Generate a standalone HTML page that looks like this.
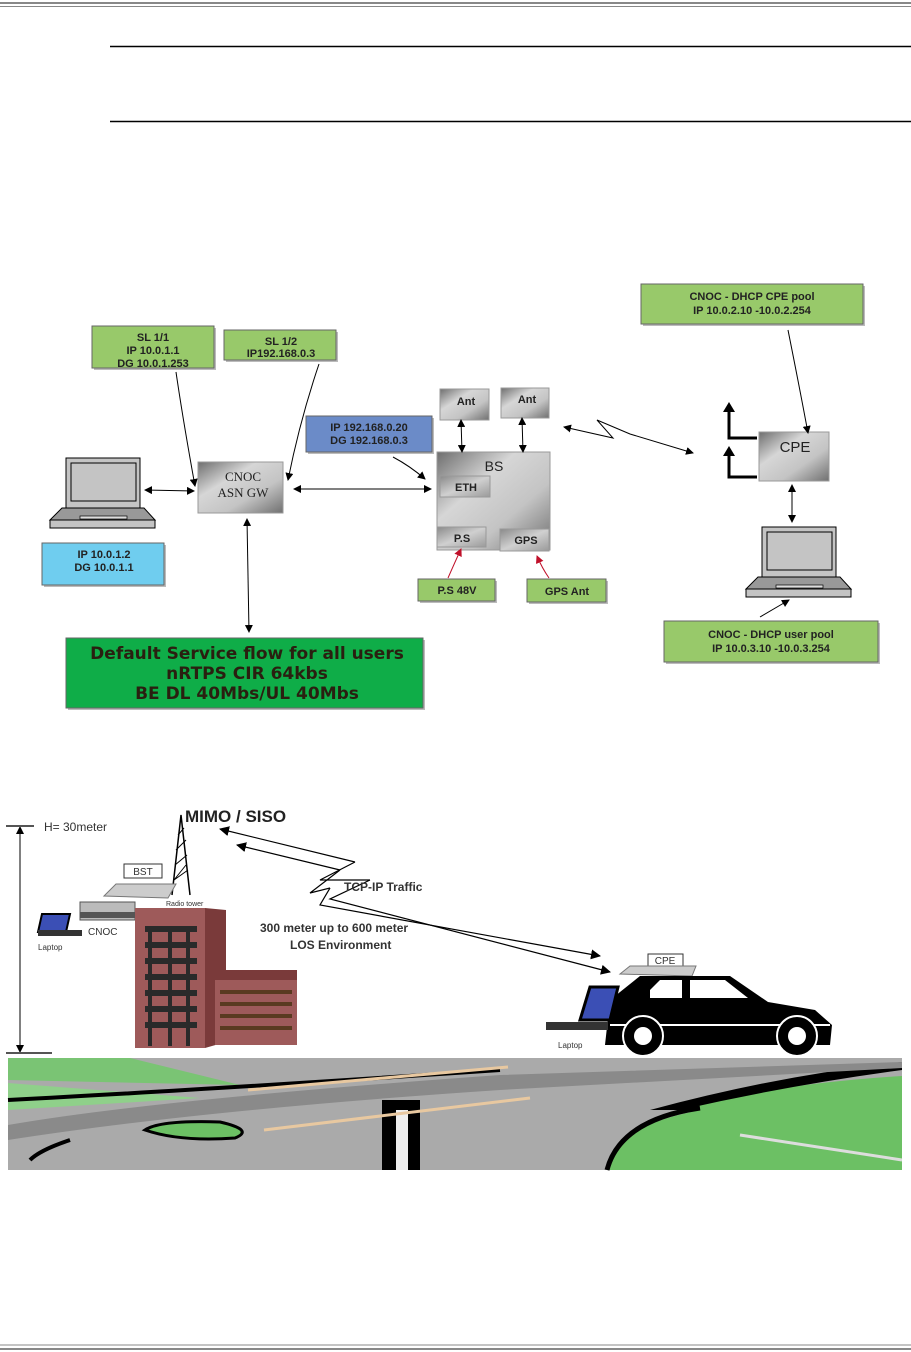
<!DOCTYPE html>
<html><head><meta charset="utf-8"><style>
html,body{margin:0;padding:0;background:#fff}
svg{display:block}
text{font-family:"Liberation Sans",sans-serif}
</style></head><body>
<svg width="911" height="1352" viewBox="0 0 911 1352" xmlns="http://www.w3.org/2000/svg">
<defs>
<linearGradient id="gr" x1="0" y1="0" x2="1" y2="1">
<stop offset="0" stop-color="#6e6e6e"/><stop offset="0.35" stop-color="#d6d6d6"/><stop offset="0.65" stop-color="#c4c4c4"/><stop offset="1" stop-color="#707070"/></linearGradient>
<linearGradient id="gr2" x1="0" y1="0" x2="1" y2="1">
<stop offset="0" stop-color="#8a8a8a"/><stop offset="0.5" stop-color="#d0d0d0"/><stop offset="1" stop-color="#9a9a9a"/></linearGradient>
<marker id="a" markerWidth="8" markerHeight="8" refX="7" refY="4" orient="auto-start-reverse" markerUnits="userSpaceOnUse"><path d="M0,0 L8,4 L0,8 z" fill="#000"/></marker>
<marker id="r" markerWidth="8" markerHeight="8" refX="7" refY="4" orient="auto" markerUnits="userSpaceOnUse"><path d="M0,0 L8,4 L0,8 z" fill="#c0102a"/></marker>
<marker id="t" markerWidth="10" markerHeight="10" refX="9" refY="5" orient="auto-start-reverse" markerUnits="userSpaceOnUse"><path d="M0,0 L10,5 L0,10 z" fill="#000"/></marker>
</defs>
<line x1="0" y1="3" x2="911" y2="3" stroke="#888" stroke-width="2"/>
<line x1="0" y1="6.5" x2="911" y2="6.5" stroke="#888" stroke-width="1"/>
<line x1="110" y1="46.5" x2="911" y2="46.5" stroke="#000" stroke-width="1.5"/>
<line x1="110" y1="121.5" x2="911" y2="121.5" stroke="#000" stroke-width="1.5"/>
<line x1="0" y1="1345" x2="911" y2="1345" stroke="#888" stroke-width="1"/>
<line x1="0" y1="1349" x2="911" y2="1349" stroke="#888" stroke-width="2"/>

<g font-size="11" font-weight="bold" fill="#222" text-anchor="middle">
<rect x="94" y="328" width="122" height="42" fill="#bbb"/>
<rect x="92" y="326" width="122" height="42" fill="#98c96a" stroke="#666"/>
<text x="153" y="341">SL 1/1</text><text x="153" y="354">IP 10.0.1.1</text><text x="153" y="367">DG 10.0.1.253</text>
<rect x="226" y="332" width="112" height="30" fill="#bbb"/>
<rect x="224" y="330" width="112" height="30" fill="#98c96a" stroke="#666"/>
<text x="281" y="345">SL 1/2</text><text x="281" y="357">IP192.168.0.3</text>
<rect x="308" y="418" width="126" height="36" fill="#bbb"/>
<rect x="306" y="416" width="126" height="36" fill="#6b8bc8" stroke="#666"/>
<text x="369" y="431">IP 192.168.0.20</text><text x="369" y="444">DG 192.168.0.3</text>
<rect x="44" y="545" width="122" height="42" fill="#bbb"/>
<rect x="42" y="543" width="122" height="42" fill="#6fcdef" stroke="#666"/>
<text x="104" y="558">IP 10.0.1.2</text><text x="104" y="571">DG 10.0.1.1</text>
<rect x="643" y="286" width="222" height="40" fill="#bbb"/>
<rect x="641" y="284" width="222" height="40" fill="#98c96a" stroke="#666"/>
<text x="752" y="300">CNOC - DHCP CPE pool</text><text x="752" y="314">IP 10.0.2.10 -10.0.2.254</text>
<rect x="666" y="623" width="214" height="41" fill="#bbb"/>
<rect x="664" y="621" width="214" height="41" fill="#98c96a" stroke="#666"/>
<text x="771" y="638">CNOC - DHCP user pool</text><text x="771" y="652">IP 10.0.3.10 -10.0.3.254</text>
<rect x="420" y="581" width="77" height="22" fill="#bbb"/>
<rect x="418" y="579" width="77" height="22" fill="#98c96a" stroke="#666"/>
<text x="457" y="594">P.S 48V</text>
<rect x="529" y="581" width="79" height="23" fill="#bbb"/>
<rect x="527" y="579" width="79" height="23" fill="#98c96a" stroke="#666"/>
<text x="567" y="595">GPS Ant</text>
</g>
<rect x="68" y="640" width="357" height="70" fill="#bbb"/>
<rect x="66" y="638" width="357" height="70" fill="#0fad48" stroke="#666"/>
<g font-size="17" font-weight="bold" fill="#2a1f10" text-anchor="middle">
<text x="247" y="659" style="font-family:'DejaVu Sans',sans-serif">Default Service flow for all users</text>
<text x="247" y="679" style="font-family:'DejaVu Sans',sans-serif">nRTPS CIR 64kbs</text>
<text x="247" y="699" style="font-family:'DejaVu Sans',sans-serif">BE DL 40Mbs/UL 40Mbs</text>
</g>
<rect x="198" y="462" width="85" height="51" fill="url(#gr)" stroke="#999"/>
<text x="243" y="481" font-size="13" text-anchor="middle" fill="#222" style="font-family:'Liberation Serif',serif">CNOC</text>
<text x="243" y="497" font-size="13" text-anchor="middle" fill="#222" style="font-family:'Liberation Serif',serif">ASN GW</text>
<rect x="437" y="452" width="113" height="98" fill="url(#gr)" stroke="#999"/>
<text x="494" y="471" font-size="14" text-anchor="middle" fill="#222">BS</text>
<rect x="440" y="476" width="50" height="21" fill="url(#gr2)" stroke="#999"/>
<text x="466" y="491" font-size="11" text-anchor="middle" font-weight="bold" fill="#222">ETH</text>
<rect x="437" y="527" width="49" height="20" fill="url(#gr2)" stroke="#999"/>
<text x="462" y="542" font-size="11" text-anchor="middle" font-weight="bold" fill="#222">P.S</text>
<rect x="500" y="529" width="49" height="22" fill="url(#gr2)" stroke="#999"/>
<text x="526" y="544" font-size="11" text-anchor="middle" font-weight="bold" fill="#222">GPS</text>
<rect x="440" y="389" width="49" height="31" fill="url(#gr)" stroke="#999"/>
<text x="466" y="405" font-size="11" text-anchor="middle" font-weight="bold" fill="#222">Ant</text>
<rect x="501" y="388" width="48" height="30" fill="url(#gr)" stroke="#999"/>
<text x="527" y="403" font-size="11" text-anchor="middle" font-weight="bold" fill="#222">Ant</text>
<rect x="759" y="432" width="70" height="49" fill="url(#gr)" stroke="#999"/>
<text x="795" y="452" font-size="15" text-anchor="middle" fill="#222">CPE</text>
<path d="M757,438 H729 V408" fill="none" stroke="#000" stroke-width="3"/>
<path d="M723,412 L729,402 L735,412 z" fill="#000"/>
<path d="M757,477 H729 V452" fill="none" stroke="#000" stroke-width="3"/>
<path d="M723,456 L729,446 L735,456 z" fill="#000"/>
<g>
<rect x="66" y="458" width="74" height="50" fill="#c4c4c4" stroke="#000"/>
<rect x="71" y="463" width="65" height="38" fill="#c4c4c4" stroke="#000"/>
<path d="M62,508 H144 L155,520 H50 z" fill="#999" stroke="#000"/>
<rect x="50" y="520" width="105" height="8" fill="#c4c4c4" stroke="#000"/>
<rect x="80" y="516" width="47" height="3" fill="#ddd" stroke="#000" stroke-width="0.7"/>
</g>
<g transform="translate(696,69)">
<rect x="66" y="458" width="74" height="50" fill="#c4c4c4" stroke="#000"/>
<rect x="71" y="463" width="65" height="38" fill="#c4c4c4" stroke="#000"/>
<path d="M62,508 H144 L155,520 H50 z" fill="#999" stroke="#000"/>
<rect x="50" y="520" width="105" height="8" fill="#c4c4c4" stroke="#000"/>
<rect x="80" y="516" width="47" height="3" fill="#ddd" stroke="#000" stroke-width="0.7"/>
</g>
<g stroke="#000" stroke-width="1" fill="none">
<line x1="145" y1="490" x2="194" y2="491" marker-start="url(#a)" marker-end="url(#a)"/>
<path d="M176,372 Q183,420 195,486" marker-end="url(#a)"/>
<path d="M319,364 Q300,420 288,480" marker-end="url(#a)"/>
<line x1="294" y1="489" x2="431" y2="489" marker-start="url(#a)" marker-end="url(#a)"/>
<path d="M393,457 Q410,466 425,479" marker-end="url(#a)"/>
<line x1="247" y1="519" x2="249" y2="632" marker-start="url(#a)" marker-end="url(#a)"/>
<line x1="461" y1="420" x2="462" y2="452" marker-start="url(#a)" marker-end="url(#a)"/>
<line x1="522" y1="418" x2="523" y2="452" marker-start="url(#a)" marker-end="url(#a)"/>
<path d="M564,427 L613,438 L597,420 L630,434 L693,453" marker-start="url(#a)" marker-end="url(#a)"/>
<path d="M788,330 Q800,390 808,433" marker-end="url(#a)"/>
<line x1="792" y1="485" x2="792" y2="522" marker-start="url(#a)" marker-end="url(#a)"/>
<line x1="760" y1="617" x2="789" y2="600" marker-end="url(#a)"/>
</g>
<g stroke="#c0102a" stroke-width="1" fill="none">
<path d="M448,578 Q455,562 461,549" marker-end="url(#r)"/>
<path d="M549,578 Q542,568 537,556" marker-end="url(#r)"/>
</g>

<!-- bottom illustration -->
<line x1="20" y1="827" x2="20" y2="1052" stroke="#000" marker-start="url(#a)" marker-end="url(#a)"/>
<line x1="6" y1="826" x2="34" y2="826" stroke="#555" stroke-width="2"/>
<line x1="6" y1="1053" x2="52" y2="1053" stroke="#555" stroke-width="2"/>
<text x="44" y="831" font-size="12" fill="#333">H= 30meter</text>
<text x="185" y="822" font-size="17" font-weight="bold" fill="#222">MIMO / SISO</text>
<path d="M172,895 L181,815 L190,895" fill="none" stroke="#000" stroke-width="1.5"/>
<path d="M174,880 L188,870 M175,865 L187,855 M176,850 L186,840 M178,835 L184,828 M174,880 L186,865" stroke="#000" fill="none"/>
<rect x="124" y="864" width="38" height="14" fill="#fff" stroke="#333"/>
<text x="143" y="875" font-size="10" text-anchor="middle" fill="#333">BST</text>
<path d="M104,896 L116,884 H176 L168,898 z" fill="#ccc" stroke="#777"/>
<rect x="80" y="902" width="55" height="18" fill="#bbb" stroke="#555"/>
<rect x="80" y="912" width="55" height="6" fill="#555"/>
<path d="M42,914 H70 L66,932 H38 z" fill="#3b4fb5" stroke="#000" stroke-width="2"/>
<rect x="38" y="930" width="44" height="6" fill="#333"/>
<text x="38" y="950" font-size="8" fill="#333">Laptop</text>
<text x="88" y="935" font-size="10" fill="#333">CNOC</text>
<text x="166" y="906" font-size="7" fill="#333">Radio tower</text>
<rect x="135" y="908" width="70" height="140" fill="#9e5a5a"/>
<path d="M205,908 L226,910 V1042 L205,1048 z" fill="#7a3a3a"/>
<g fill="#2a2a2a">
<rect x="145" y="926" width="52" height="6"/><rect x="145" y="942" width="52" height="6"/>
<rect x="145" y="958" width="52" height="6"/><rect x="145" y="974" width="52" height="6"/>
<rect x="145" y="990" width="52" height="6"/><rect x="145" y="1006" width="52" height="6"/>
<rect x="145" y="1022" width="52" height="6"/>
<rect x="148" y="926" width="4" height="120"/><rect x="168" y="926" width="4" height="120"/><rect x="186" y="926" width="4" height="120"/>
</g>
<rect x="215" y="975" width="82" height="70" fill="#9e5a5a"/>
<rect x="215" y="970" width="82" height="10" fill="#7a3a3a"/>
<g fill="#5a3a20"><rect x="220" y="990" width="72" height="4"/><rect x="220" y="1002" width="72" height="4"/><rect x="220" y="1014" width="72" height="4"/><rect x="220" y="1026" width="72" height="4"/></g>
<g stroke="#000" fill="none" stroke-width="1.2">
<path d="M355,862 L220,829" marker-end="url(#t)"/>
<path d="M355,862 L320,880 L370,880"/>
<path d="M340,870 L237,845" marker-end="url(#t)"/>
<path d="M340,870 L310,893 L330,888"/>
<path d="M370,880 L330,899 L610,972" marker-end="url(#t)"/>
<path d="M330,888 L320,905 L600,956" marker-end="url(#t)"/>
</g>
<text x="344" y="891" font-size="12" font-weight="bold" fill="#333">TCP-IP Traffic</text>
<text x="260" y="932" font-size="12" font-weight="bold" fill="#333">300 meter up to 600 meter</text>
<text x="290" y="949" font-size="12" font-weight="bold" fill="#333">LOS Environment</text>
<rect x="648" y="954" width="35" height="13" fill="#fff" stroke="#333"/>
<text x="665" y="964" font-size="10" text-anchor="middle" fill="#333">CPE</text>
<path d="M620,974 L630,966 H696 L692,976 z" fill="#ccc" stroke="#777"/>
<path d="M610,1000 L640,976 H730 L768,1002 L815,1010 L832,1025 L830,1045 H605 z" fill="#000"/>
<path d="M650,990 L660,980 H682 V998 H650 z M690,980 H725 L748,998 H690 z" fill="#fff"/>
<line x1="610" y1="1025" x2="830" y2="1025" stroke="#fff" stroke-width="2"/>
<circle cx="643" cy="1036" r="20" fill="#000" stroke="#fff" stroke-width="2"/><circle cx="643" cy="1036" r="9" fill="#fff"/>
<circle cx="797" cy="1036" r="20" fill="#000" stroke="#fff" stroke-width="2"/><circle cx="797" cy="1036" r="9" fill="#fff"/>
<path d="M590,987 H618 L610,1020 H580 z" fill="#3b4fb5" stroke="#000" stroke-width="3"/>
<rect x="546" y="1022" width="62" height="8" fill="#333"/>
<text x="558" y="1048" font-size="8" fill="#333">Laptop</text>
<!-- road scene -->
<rect x="8" y="1058" width="894" height="112" fill="#aaaaaa"/>
<path d="M8,1058 H130 L240,1085 L8,1080 z" fill="#7ac474"/>
<path d="M8,1083 L200,1098 L8,1110 z" fill="#8fd08a"/>
<path d="M677,1112 Q760,1085 902,1076 V1120 Q780,1118 677,1112 z" fill="#6cc064"/>
<path d="M607,1170 Q620,1110 760,1105 L902,1103 V1170 z" fill="#6cc064"/>
<path d="M607,1170 Q620,1120 700,1108" stroke="#000" stroke-width="5" fill="none"/>
<path d="M650,1110 Q780,1075 902,1062 V1070 Q790,1085 680,1110 z" fill="#000"/>
<path d="M8,1125 Q150,1100 500,1075 L902,1062 V1068 L500,1090 Q200,1110 8,1140 z" fill="#8a8a8a"/>
<path d="M8,1100 Q200,1090 500,1070" stroke="#000" stroke-width="4" fill="none"/>
<path d="M145,1130 Q160,1120 220,1122 Q255,1130 235,1138 Q180,1142 145,1130 z" fill="#6cc064" stroke="#000" stroke-width="3"/>
<path d="M30,1160 Q40,1150 70,1140" stroke="#000" stroke-width="4" fill="none"/>
<rect x="382" y="1100" width="38" height="70" fill="#000"/><rect x="396" y="1110" width="12" height="60" fill="#eee"/>
<line x1="248" y1="1090" x2="508" y2="1067" stroke="#e8c8a0" stroke-width="3"/>
<line x1="264" y1="1130" x2="530" y2="1098" stroke="#e8c8a0" stroke-width="3"/>
<path d="M740,1135 L902,1160" stroke="#ddd" stroke-width="3"/>
</svg>
</body></html>
